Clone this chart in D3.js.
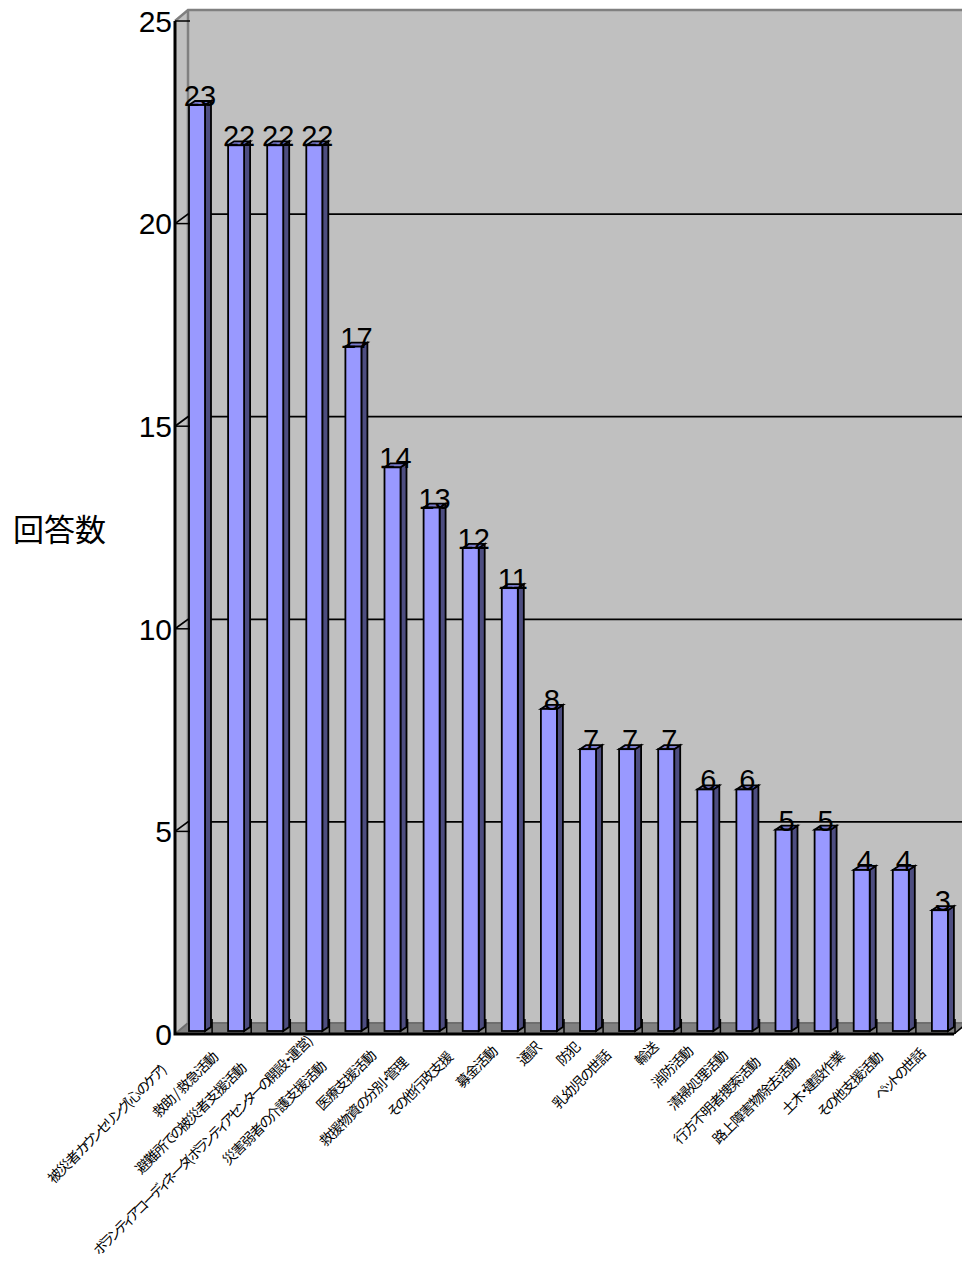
<!DOCTYPE html>
<html lang="ja">
<head>
<meta charset="utf-8">
<script src="https://cdn.jsdelivr.net/npm/d3@7/dist/d3.min.js"></script>
<style>
html,body{margin:0;padding:0;background:#fff;overflow:hidden}
svg{display:block}
.num{font-family:"Liberation Sans",Arial,sans-serif;fill:#000}
.cjk{font-family:"Noto Sans CJK JP",sans-serif;fill:#000;font-feature-settings:"palt"}
</style>
</head>
<body>
<svg id="chart" width="962" height="1262"></svg>
<script>
// Survey results: number of responses per volunteer activity type
const categories = [
  "被災者カウンセリング(心のケア)","救助 / 救急活動","避難所での被災者支援活動",
  "ボランティアコーディネータ(ボランティアセンターの開設・運営)","災害弱者の介護支援活動",
  "医療支援活動","救援物資の分別・管理","その他行政支援","募金活動","通訳","防犯",
  "乳幼児の世話","輸送","消防活動","清掃処理活動","行方不明者捜索活動","路上障害物除去活動",
  "土木・建設作業","その他支援活動","ペットの世話"
];
const counts = [23,22,22,22,17,14,13,12,11,8,7,7,7,6,6,5,5,4,4,3];
const yTicks = [0,5,10,15,20,25];
const yTitle = "回答数";

const colors = {wall:"#c0c0c0",floor:"#808080",edge:"#808080",front:"#9999ff",side:"#4d4d80",top:"#7a7acc"};
const depth = {x:13,y:11};      // wall depth of the 3D box
const gridRise = 9.5;           // rise of the gridline leaders across the left wall
const barDepth = {x:6,y:4};     // depth of each column
const barWidth = 16;

const svg = d3.select("#chart");

// Scales: front plane of the box, and the plane columns stand on
const x = d3.scaleBand().domain(categories).range([173,955]);
const yFront = d3.scaleLinear().domain([0,25]).range([1034,21]);
const yBar = d3.scaleLinear().domain([0,25]).range([1031,24.5]);
const barLeft = c => x(c) + 16;

const left = x.range()[0]+2, right = x.range()[1]-1;
const path = pts => "M"+pts.map(p=>p.join(",")).join("L")+"Z";

// Left wall, back wall, floor
const wall = svg.append("g");
wall.append("rect").attr("x",left+depth.x).attr("y",yFront(25)-depth.y)
  .attr("width",962-left-depth.x).attr("height",yFront(0)-yFront(25))
  .attr("fill",colors.wall);
wall.append("path").attr("fill",colors.wall)
  .attr("d",path([[left,yFront(25)],[left+depth.x,yFront(25)-depth.y],[left+depth.x,yFront(0)-depth.y],[left,yFront(0)]]));
wall.append("path").attr("fill",colors.floor)
  .attr("d",path([[left,yFront(0)],[left+depth.x,yFront(0)-depth.y],[970,yFront(0)-depth.y],[right,yFront(0)]]));
wall.append("path").attr("fill","none").attr("stroke","#6e6e6e").attr("stroke-width",2)
  .attr("d",`M${left},${yFront(0)}L${left+depth.x},${yFront(0)-depth.y}H962`);
wall.append("path").attr("fill","none").attr("stroke",colors.edge).attr("stroke-width",2.5)
  .attr("d",`M${left},${yFront(25)}L${left+depth.x},${yFront(25)-depth.y}H962M${left+depth.x},${yFront(25)-depth.y}V${yFront(0)-depth.y}`);

// Horizontal gridlines on the back wall, with their diagonal leaders on the left wall
const grid = svg.append("g").attr("stroke","#000").attr("stroke-width",1.7).attr("fill","none");
grid.selectAll("path").data(yTicks.filter(t=>t>0&&t<25)).join("path")
  .attr("d",t=>`M${left},${yFront(t)}L${left+depth.x},${yFront(t)-gridRise}H962`);

// Category tick marks crossing the floor
svg.append("g").selectAll("line").data(categories).join("line")
  .attr("x1",c=>x(c)+x.bandwidth())
  .attr("x2",c=>x(c)+x.bandwidth())
  .attr("y1",yFront(0)).attr("y2",yFront(0)-depth.y-4)
  .attr("stroke","#000").attr("stroke-width",1.5);

// Columns
const bars = svg.append("g").attr("stroke","#000").attr("stroke-width",1.8).attr("stroke-linejoin","miter")
  .selectAll("g").data(categories).join("g");
bars.append("path").attr("fill",colors.side).attr("d",(c,i)=>{
  const x1=barLeft(c)+barWidth, t=yBar(counts[i]), b=yBar(0);
  return path([[x1,t],[x1+barDepth.x,t-barDepth.y],[x1+barDepth.x,b-barDepth.y],[x1,b]]);
});
bars.append("path").attr("fill",colors.top).attr("d",(c,i)=>{
  const x0=barLeft(c), t=yBar(counts[i]);
  return path([[x0,t],[x0+barDepth.x,t-barDepth.y],[x0+barWidth+barDepth.x,t-barDepth.y],[x0+barWidth,t]]);
});
bars.append("rect").attr("fill",colors.front)
  .attr("x",c=>barLeft(c)).attr("width",barWidth)
  .attr("y",(c,i)=>yBar(counts[i])).attr("height",(c,i)=>yBar(0)-yBar(counts[i]));

// Front edges of the box
svg.append("path").attr("fill","none").attr("stroke","#000").attr("stroke-width",3)
  .attr("d",`M${left},${yFront(25)}V${yFront(0)}H${right}`);
svg.append("line").attr("x1",right).attr("y1",yFront(0)).attr("x2",right+depth.x).attr("y2",yFront(0)-depth.y)
  .attr("stroke","#000").attr("stroke-width",1.5);

// Value axis
const axis = svg.append("g").attr("transform",`translate(${left},0)`)
  .call(d3.axisLeft(yFront).tickValues(yTicks).tickSize(0).tickPadding(3));
axis.select(".domain").remove();
axis.selectAll("text").attr("class","num").attr("font-size",30).attr("font-family",null).attr("dy","0.34em");
svg.append("g").selectAll("line").data(yTicks).join("line")
  .attr("x1",left).attr("x2",left+15)
  .attr("y1",t=>yFront(t)).attr("y2",t=>yFront(t))
  .attr("stroke","#000").attr("stroke-width",1.5);

// Value labels sitting on the front top edge of each column
svg.append("g").selectAll("text").data(categories).join("text")
  .attr("class","num").attr("font-size",29).attr("text-anchor","middle")
  .attr("x",c=>barLeft(c)+(barWidth+barDepth.x)/2)
  .attr("y",(c,i)=>yBar(counts[i])+1)
  .text((c,i)=>counts[i]);

// Slanted category labels; kana runs are set tighter than kanji.
// The longest label is pushed up along its slant so it stays on the page.
const labelFloor = 1253, diag = Math.SQRT1_2;
svg.append("g").selectAll("text").data(categories).join("text")
  .attr("class","cjk").attr("font-size",14).attr("text-anchor","end")
  .attr("letter-spacing",-1.2)
  .each(function(c){
    const label = d3.select(this);
    c.match(/[\u3040-\u30ff]+|[^\u3040-\u30ff]+/g).forEach(run=>{
      const span = label.append("tspan").text(run);
      if(/[\u3040-\u30ff]/.test(run)) span.attr("letter-spacing",-2.6);
    });
    const len = this.getComputedTextLength();
    const d = 9 + 0.17*len;
    let ex = barLeft(c)+11-d, ey = 1032+d;
    const over = ey + len*diag - labelFloor;
    if(over>0){ex+=over;ey-=over;}
    label.attr("transform",`translate(${ex+3},${ey+3}) rotate(-45)`);
  });

// Value axis title
svg.append("text").attr("class","cjk").attr("font-size",31).attr("x",13).attr("y",541).text(yTitle);
</script>
</body>
</html>
